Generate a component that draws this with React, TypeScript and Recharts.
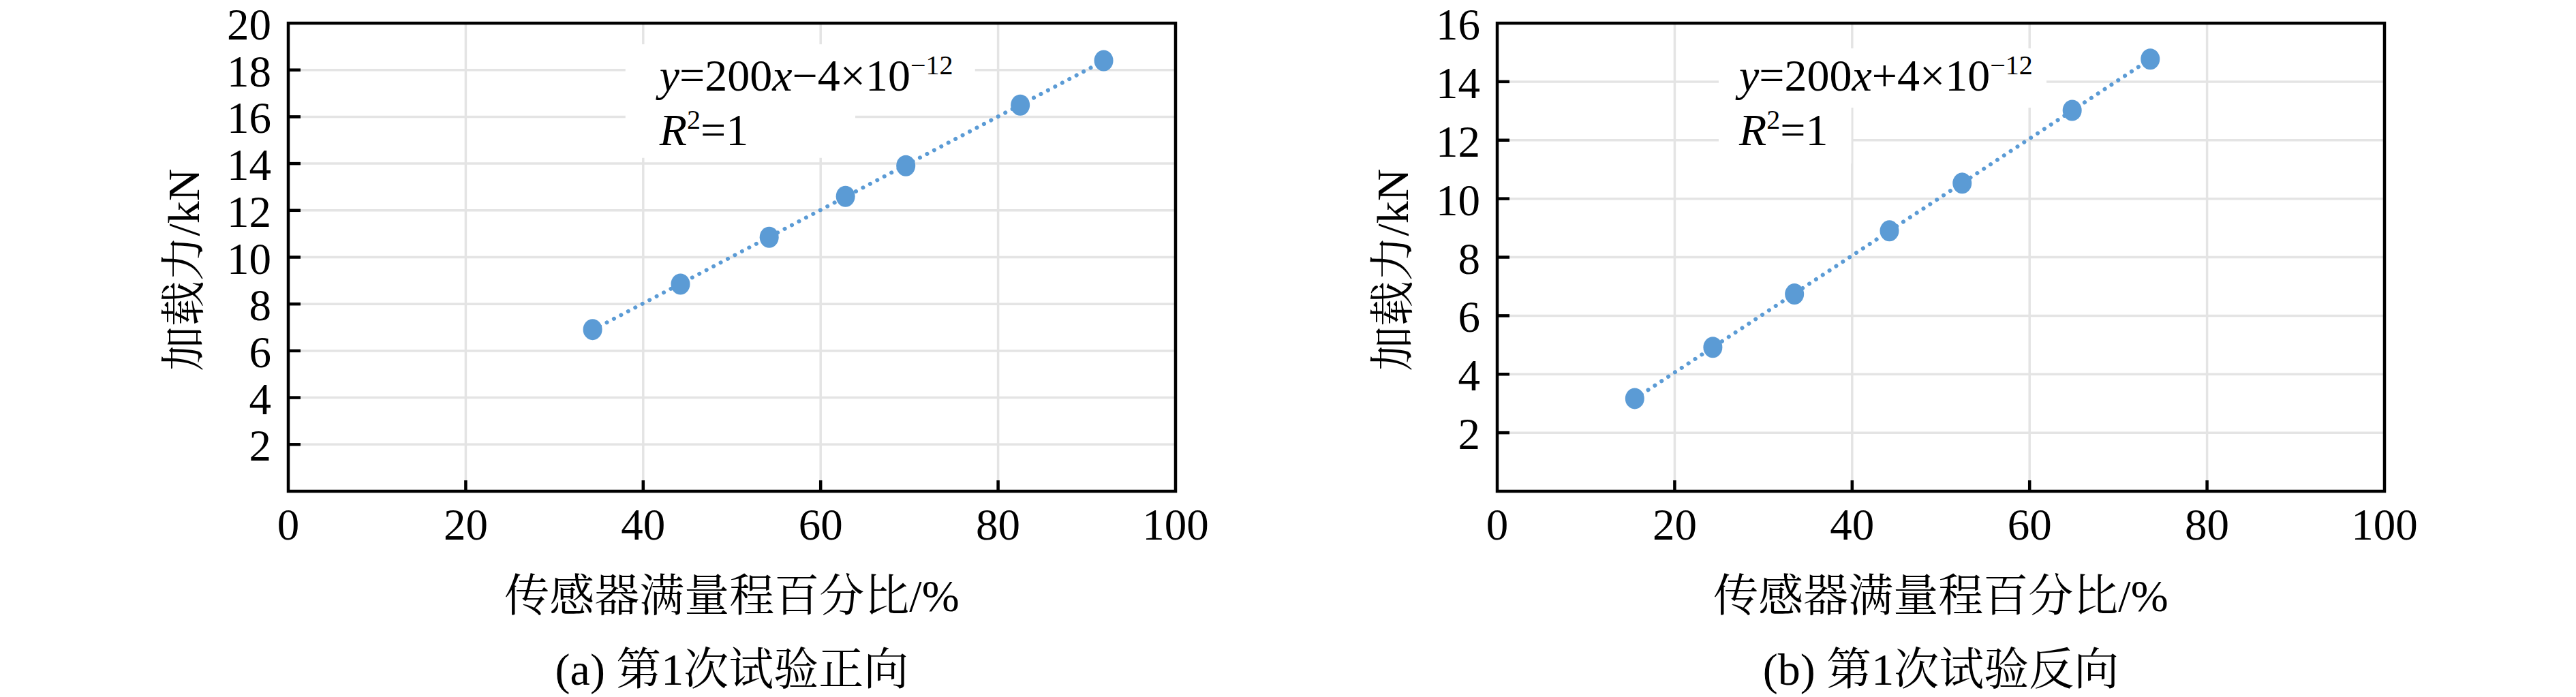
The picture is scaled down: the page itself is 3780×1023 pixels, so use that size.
import React from 'react';
import { ScatterChart, Scatter, XAxis, YAxis, CartesianGrid, ReferenceArea } from 'recharts';

// ---------- data ----------
const xTicks = [0, 20, 40, 60, 80, 100];
const yTicksA = [2, 4, 6, 8, 10, 12, 14, 16, 18, 20];
const yTicksB = [2, 4, 6, 8, 10, 12, 14, 16];

const percentA = [34.3, 44.2, 54.2, 62.8, 69.6, 82.5, 91.9];
const loadA = [6.91, 8.85, 10.85, 12.6, 13.91, 16.5, 18.4];

const percentB = [15.5, 24.3, 33.5, 44.2, 52.4, 64.8, 73.6];
const loadB = [3.17, 4.92, 6.74, 8.9, 10.53, 13.02, 14.77];

const xTitle = '传感器满量程百分比/%';
const yTitle = '加载力/kN';
const captionA = '(a) 第1次试验正向';
const captionB = '(b) 第1次试验反向';
const signA = '−';
const signB = '+';

// ---------- style ----------
const BLUE = '#5B9BD5';
const GRID = '#e4e4e4';
const FONT = "'Liberation Serif', 'Times New Roman', 'Noto Serif CJK SC', 'Noto Sans CJK SC', serif";
const FS = 65;

function fitLine(xs: number[], ys: number[]) {
  const n = xs.length;
  const mx = xs.reduce((a, b) => a + b, 0) / n;
  const my = ys.reduce((a, b) => a + b, 0) / n;
  let sxy = 0, sxx = 0;
  for (let i = 0; i < n; i++) { sxy += (xs[i] - mx) * (ys[i] - my); sxx += (xs[i] - mx) ** 2; }
  const k = sxy / sxx;
  const b = my - k * mx;
  const x0 = Math.min(...xs), x1 = Math.max(...xs);
  return [{ x: x0, y: k * x0 + b }, { x: x1, y: k * x1 + b }];
}

const makeYTick = (yMax: number) => (props: any) => {
  const { x, y, payload } = props;
  const v = payload.value;
  return (
    <g>
      {v > 0 && v < yMax && <line x1={x} x2={x + 18} y1={y} y2={y} stroke="#000" strokeWidth={4.5} />}
      <text x={x - 25} y={y + 24} textAnchor="end" fontSize={FS} fontFamily={FONT} fill="#000">{v}</text>
    </g>
  );
};

const XTick = (props: any) => {
  const { x, y, payload } = props;
  const v = payload.value;
  return (
    <g>
      {v > 0 && v < 100 && <line x1={x} x2={x} y1={y} y2={y - 16} stroke="#000" strokeWidth={4.5} />}
      <text x={x} y={y + 71} textAnchor="middle" fontSize={FS} fontFamily={FONT} fill="#000">{v}</text>
    </g>
  );
};

type Box = { x1: number; x2: number; y1: number; y2: number };

type PanelProps = {
  left: number;
  percent: number[];
  load: number[];
  yMax: number;
  yTicks: number[];
  caption: string;
  sign: string;
  box1: Box;
  box2: Box;
  textDx: number;
  base1: number;
  base2: number;
};

function Panel(p: PanelProps) {
  const pts = p.percent.map((x, i) => ({ x, y: p.load[i] }));
  const trend = fitLine(p.percent, p.load);

  const xLabel = (lp: any) => {
    const vb = lp.viewBox;
    const cx = vb.x + vb.width / 2;
    return (
      <g>
        <text x={cx} y={vb.y + 176} textAnchor="middle" fontSize={66} fontFamily={FONT} fill="#000">{xTitle}</text>
        <text x={cx} y={vb.y + 284} textAnchor="middle" fontSize={66} fontFamily={FONT} fill="#000">{p.caption}</text>
      </g>
    );
  };

  const yLabel = (lp: any) => {
    const vb = lp.viewBox;
    const ax = vb.x + vb.width - 131;
    const ay = 396;
    return (
      <text x={ax} y={ay} transform={`rotate(-90, ${ax}, ${ay})`} textAnchor="middle" fontSize={66} fontFamily={FONT} fill="#000">{yTitle}</text>
    );
  };

  // label attached to the lower box; offsets measured from that box's top edge
  const anno = (lp: any) => {
    const vb = lp.viewBox;
    const tx = vb.x + p.textDx;
    return (
      <g fontFamily={FONT} fill="#000">
        <text x={tx} y={vb.y + p.base1} fontSize={66}>
          <tspan fontStyle="italic">y</tspan>=200<tspan fontStyle="italic">x</tspan>{p.sign}4×10
          <tspan dy={-24} fontSize={40}>−12</tspan>
        </text>
        <text x={tx} y={vb.y + p.base2} fontSize={66}>
          <tspan fontStyle="italic">R</tspan><tspan dy={-24} fontSize={40}>2</tspan><tspan dy={24}>=1</tspan>
        </text>
      </g>
    );
  };

  return (
    <div style={{ position: 'absolute', left: p.left, top: 0 }}>
      <ScatterChart width={1890} height={1023} margin={{ top: 34, right: 165, bottom: 242, left: 273 }}>
        <CartesianGrid stroke={GRID} strokeWidth={3.5} horizontalValues={p.yTicks} verticalValues={xTicks} />
        <XAxis
          type="number"
          dataKey="x"
          domain={[0, 100]}
          ticks={xTicks}
          height={60}
          axisLine={false}
          tickLine={false}
          tickSize={0}
          tickMargin={0}
          tick={XTick}
          interval={0}
          label={xLabel}
        />
        <YAxis
          type="number"
          dataKey="y"
          domain={[0, p.yMax]}
          ticks={p.yTicks}
          width={150}
          axisLine={false}
          tickLine={false}
          tickSize={0}
          tickMargin={0}
          tick={makeYTick(p.yMax)}
          interval={0}
          label={yLabel}
        />
        <ReferenceArea x1={p.box1.x1} x2={p.box1.x2} y1={p.box1.y1} y2={p.box1.y2} fill="#fff" fillOpacity={1} stroke="none" />
        <ReferenceArea x1={p.box2.x1} x2={p.box2.x2} y1={p.box2.y1} y2={p.box2.y2} fill="#fff" fillOpacity={1} stroke="none" label={anno} />
        <ReferenceArea x1={0} x2={100} y1={0} y2={p.yMax} fill="none" fillOpacity={0} stroke="#000" strokeWidth={4.5} />
        <Scatter
          data={trend}
          dataKey="y"
          fill={BLUE}
          line={{ stroke: BLUE, strokeWidth: 6, strokeDasharray: '0.1 11.7', strokeLinecap: 'round' }}
          shape={() => <g />}
          isAnimationActive={false}
        />
        <Scatter
          data={pts}
          dataKey="y"
          fill={BLUE}
          shape={(sp: any) => <ellipse cx={sp.cx} cy={sp.cy} rx={14} ry={15.5} fill={BLUE} />}
          isAnimationActive={false}
        />
      </ScatterChart>
    </div>
  );
}

export default function App() {
  return (
    <div style={{ position: 'absolute', left: 0, top: 0, width: 3780, height: 1023, background: '#fff', overflow: 'hidden' }}>
      <Panel
        left={0}
        percent={percentA}
        load={loadA}
        yMax={20}
        yTicks={yTicksA}
        caption={captionA}
        sign={signA}
        box1={{ x1: 38.0, x2: 77.4, y1: 16.62, y2: 19.1 }}
        box2={{ x1: 38.0, x2: 63.9, y1: 14.24, y2: 16.62 }}
        textDx={50}
        base1={-17}
        base2={63}
      />
      <Panel
        left={1774}
        percent={percentB}
        load={loadB}
        yMax={16}
        yTicks={yTicksB}
        caption={captionB}
        sign={signB}
        box1={{ x1: 24.96, x2: 61.9, y1: 13.11, y2: 15.14 }}
        box2={{ x1: 24.96, x2: 39.9, y1: 11.2, y2: 13.11 }}
        textDx={30}
        base1={-25}
        base2={55}
      />
    </div>
  );
}
